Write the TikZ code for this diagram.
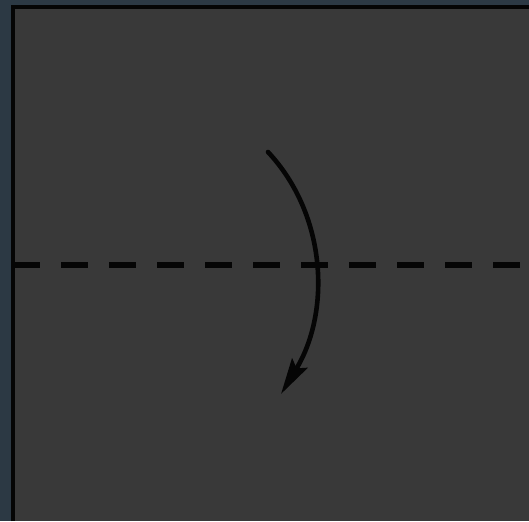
\documentclass[tikz,border=0pt]{standalone}
\usepackage{tikz}
\usetikzlibrary{arrows.meta}
\definecolor{foldBack}{HTML}{2C3944}
\definecolor{foldPaper}{HTML}{393939}
\definecolor{foldInk}{HTML}{050505}
\tikzset{
    >=Stealth,
    paper/.style={fill=foldPaper, draw=none},
    edge/.style={draw=foldInk, line width=4.5pt},
    valley/.style={draw=foldInk, line width=5.5pt, dash pattern=on 27pt off 21pt},
    foldarrow/.style={-{Stealth[length=36pt, width=18pt, inset=6pt]}, line width=4.6pt, draw=foldInk, line cap=round}
}
\begin{document}
\begin{tikzpicture}[x=1pt, y=-1pt]
\fill[foldBack] (0,0) rectangle (529,521);
\useasboundingbox (0,0) rectangle (529,521);
% square of paper
\fill[paper] (13,7) rectangle (529,521);
\draw[edge] (13,521) -- (13,7) -- (529,7);
% fold line
\coordinate (leftend) at (13,265);
\coordinate (rightend) at (529,265);
\draw[valley] (leftend) -- (rightend);
% fold the top half down
\coordinate (foldstart) at (268,152);
\coordinate (foldend) at (281,394);
\draw[foldarrow] (foldstart) .. controls (327,215) and (331,312) .. (foldend);
\end{tikzpicture}
\end{document}
